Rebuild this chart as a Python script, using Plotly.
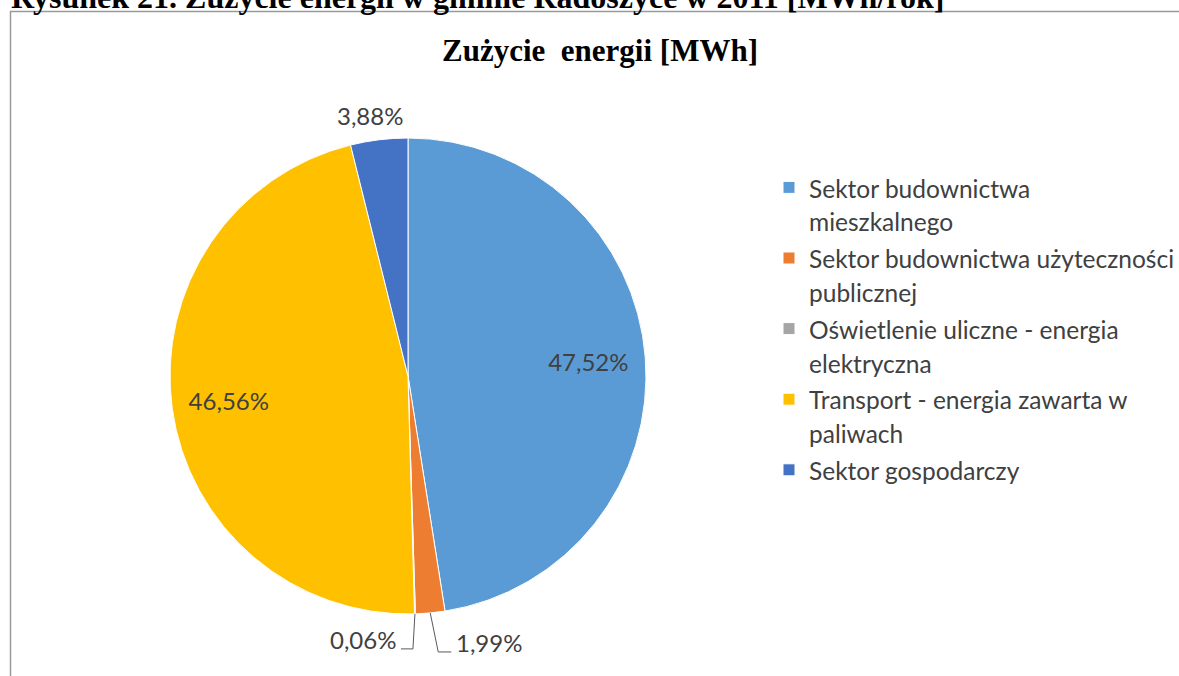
import math

import plotly.graph_objects as go

# data
labels = [
    ["Sektor budownictwa", "mieszkalnego"],
    ["Sektor budownictwa użyteczności", "publicznej"],
    ["Oświetlenie uliczne - energia", "elektryczna"],
    ["Transport - energia zawarta w", "paliwach"],
    ["Sektor gospodarczy"],
]
shares = [47.52, 1.99, 0.06, 46.56, 3.88]
colors = ["#5B9BD5", "#ED7D31", "#A5A5A5", "#FFC000", "#4472C4"]

TEXT_COLOR = "#404040"
W, H = 1179, 676

# pie geometry in pixels
CX, CY, R = 408, 376, 238


def px(x):
    return x / W


def py(y):
    return 1 - y / H


def fmt(v):
    return f"{v:.2f}%".replace(".", ",")


# legend font is a bit larger than the spans so the items get more room
legend_labels = [
    "<br>".join(f"<span style='font-size:24.5px'>{line}</span>" for line in lines)
    for lines in labels
]

pie_domain = dict(x=[px(CX - R), px(CX + R)], y=[py(CY + R), py(CY - R)])
big = [v > 10 for v in shares]

fig = go.Figure()
fig.add_trace(
    go.Pie(
        labels=legend_labels,
        values=shares,
        textinfo="none",
        sort=False,
        direction="clockwise",
        rotation=0,
        marker=dict(colors=colors, line=dict(color="white", width=1)),
        domain=pie_domain,
        hoverinfo="value+percent",
    )
)

# transparent ring on top only to place the big labels at ~3/4 radius
fig.add_trace(
    go.Pie(
        labels=legend_labels,
        values=shares,
        text=[fmt(v) if b else "" for v, b in zip(shares, big)],
        textinfo="text",
        textposition="inside",
        insidetextorientation="horizontal",
        textfont=dict(family="Lato", size=24, color=TEXT_COLOR),
        sort=False,
        direction="clockwise",
        rotation=0,
        hole=0.52,
        marker=dict(colors=["rgba(0,0,0,0)"] * len(shares), line=dict(width=0)),
        domain=pie_domain,
        showlegend=False,
        hoverinfo="skip",
    )
)

# outside labels for the small slices, with Excel-like elbow leaders
# (knee offset, end offset) in pixels from the slice edge; None = no leader
leaders = {
    1: ((8, 39), (21, 39), "left"),
    2: ((-2, 35), (-14, 35), "right"),
    4: (None, (-9, -24), "center"),
}
total = sum(shares)
cum = 0.0
for i, v in enumerate(shares):
    mid = (cum + v / 2) / total * 2 * math.pi
    cum += v
    if i not in leaders:
        continue
    ex, ey = CX + R * math.sin(mid), CY - R * math.cos(mid)
    knee, end, side = leaders[i]
    tx, ty = ex + end[0], ey + end[1]
    if knee is not None:
        kx, ky = ex + knee[0], ey + knee[1]
        fig.add_shape(
            type="path",
            xref="paper", yref="paper",
            path=f"M {px(ex)} {py(ey)} L {px(kx)} {py(ky)} L {px(tx)} {py(ty)}",
            line=dict(color="#595959", width=1),
        )
        tx += 3 if side == "left" else -3
        ty -= 9
    fig.add_annotation(
        text=fmt(v),
        xref="paper", yref="paper", x=px(tx), y=py(ty),
        xanchor=side, yanchor="middle", showarrow=False,
        font=dict(family="Lato", size=24, color=TEXT_COLOR),
    )

# chart frame: only the left and top edges fall inside the picture
fig.add_shape(
    type="path", xref="paper", yref="paper",
    path=f"M {px(10.5)} {py(H + 30)} L {px(10.5)} {py(11.5)} L {px(W + 30)} {py(11.5)}",
    line=dict(color="#9a9a9a", width=1.5),
)

# page caption (cut off at the top of the picture)
fig.add_annotation(
    text="<b>Rysunek 21. Zużycie energii w gminie Radoszyce w 2011 [MWh/rok]</b>",
    xref="paper", yref="paper", x=px(9), y=py(-3.5),
    xanchor="left", yanchor="middle", showarrow=False,
    font=dict(family="Liberation Serif", size=32, color="black"),
)

fig.update_layout(
    width=W,
    height=H,
    margin=dict(l=0, r=0, t=0, b=0, autoexpand=False),
    paper_bgcolor="white",
    title=dict(
        text="<b>Zużycie  energii [MWh]</b>",
        x=px(600), xanchor="center", y=py(50), yanchor="middle",
        font=dict(family="Liberation Serif", size=31, color="black"),
    ),
    legend=dict(
        x=px(769), xanchor="left", y=py(164), yanchor="top",
        font=dict(family="Lato", size=26, color=TEXT_COLOR),
        valign="top",
        bgcolor="rgba(0,0,0,0)",
    ),
    showlegend=True,
)

# drop the default page margin so the figure fills the window exactly
fig.write_html(
    "out.html",
    config={"displayModeBar": False},
    post_script="document.body.style.margin = '0';",
)
